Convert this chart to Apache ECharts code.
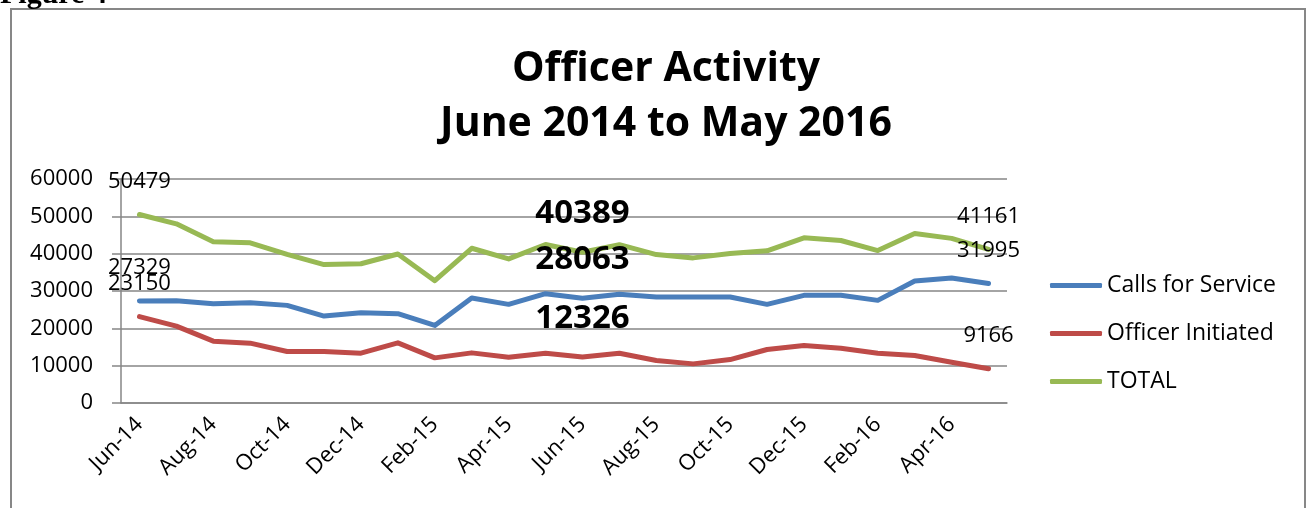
<!DOCTYPE html>
<html>
<head>
<meta charset="utf-8">
<script src="https://cdn.jsdelivr.net/npm/echarts@6/dist/echarts.min.js"></script>
<style>
    html, body { margin: 0; padding: 0; background: #fff; }
    #chart { width: 1306px; height: 508px; }
</style>
</head>
<body>
<div id="chart"></div>
<script>
    // x轴 月份
    const months = ["Jun-14", "Jul-14", "Aug-14", "Sep-14", "Oct-14", "Nov-14", "Dec-14", "Jan-15",
        "Feb-15", "Mar-15", "Apr-15", "May-15", "Jun-15", "Jul-15", "Aug-15", "Sep-15",
        "Oct-15", "Nov-15", "Dec-15", "Jan-16", "Feb-16", "Mar-16", "Apr-16", "May-16"];

    const callsForService = [27329, 27400, 26600, 26870, 26150, 23280, 24180, 23910, 20780, 28120, 26420, 29280,
        28063, 29100, 28390, 28390, 28390, 26420, 28840, 28840, 27490, 32690, 33490, 31995];

    const officerInitiated = [23150, 20600, 16570, 16030, 13790, 13790, 13340, 16120, 12090, 13430, 12270, 13340,
        12326, 13340, 11370, 10480, 11640, 14330, 15400, 14690, 13340, 12720, 10930, 9166];

    const total = [50479, 48000, 43170, 42900, 39800, 37070, 37300, 39900, 32750, 41450, 38600, 42450,
        40389, 42400, 39760, 38870, 40030, 40750, 44240, 43530, 40830, 45410, 44100, 41161];

    const yTicks = [0, 10000, 20000, 30000, 40000, 50000, 60000];

    // 哪些点要显示数值
    const labelAt = { 0: "small", 12: "big", 23: "shift" };

    const font = "Open Sans";

    const chart = echarts.init(document.getElementById("chart"));

    const lineSeries = (name, color, values) => ({
        name: name,
        type: "line",
        data: values,
        symbol: "none",
        z: 2,
        lineStyle: { color: color, width: 5, cap: "round", join: "round" },
        itemStyle: { color: color },
        emphasis: { disabled: true }
    });

    // 数值标签放在单独的散点系列里, 保证在所有线条上面
    const labelSeries = (name, values) => ({
        name: name + " labels",
        type: "scatter",
        z: 10,
        symbolSize: 0.01,
        itemStyle: { color: "rgba(0,0,0,0)", opacity: 1 },
        silent: true,
        labelLayout: { hideOverlap: false },
        data: values.map((v, i) => {
            const kind = labelAt[i];
            if (!kind) return [months[i], "-"];
            const label = {
                show: true,
                position: "top",
                distance: 22,
                color: "#000",
                fontFamily: font,
                fontSize: 22
            };
            if (kind === "big") {
                label.fontSize = 33;
                label.fontWeight = "bold";
            }
            if (kind === "shift") {
                label.offset = [12, 0];
            }
            return { value: [months[i], v], label: label };
        }),
        label: {
            show: false,
            formatter: (p) => String(p.value[1])
        }
    });

    const option = {
        animation: false,
        title: {
            text: "Officer Activity\nJune 2014 to May 2016",
            left: 661,
            textAlign: "center",
            top: 37,
            textStyle: {
                fontFamily: font,
                fontSize: 41,
                fontWeight: "bold",
                color: "#000",
                lineHeight: 55
            }
        },
        graphic: [
            {
                type: "rect",
                shape: { x: 11, y: 9, width: 1294, height: 540 },
                style: { fill: "none", stroke: "#878787", lineWidth: 2 },
                z: 0
            },
            {
                type: "text",
                left: 0,
                top: -20,
                style: {
                    text: "Figure 4",
                    font: "bold 30px 'Liberation Serif'",
                    fill: "#000"
                }
            }
        ],
        legend: {
            orient: "vertical",
            left: 1045,
            top: 269,
            itemWidth: 52,
            itemHeight: 5,
            itemGap: 25,
            icon: "roundRect",
            textStyle: { fontFamily: font, fontSize: 23, color: "#000" },
            data: ["Calls for Service", "Officer Initiated", "TOTAL"]
        },
        grid: { left: 121, right: 299, top: 179, bottom: 105 },
        xAxis: {
            type: "category",
            data: months,
            boundaryGap: true,
            axisLine: { lineStyle: { color: "#868686", width: 1.5 } },
            axisTick: { interval: 1, length: 8, lineStyle: { color: "#868686", width: 1.5 } },
            axisLabel: {
                interval: 1,
                rotate: 45,
                margin: 18,
                color: "#000",
                fontFamily: font,
                fontSize: 22
            }
        },
        yAxis: {
            type: "value",
            min: yTicks[0],
            max: yTicks[yTicks.length - 1],
            interval: 10000,
            axisLine: { show: true, lineStyle: { color: "#868686", width: 1.5 } },
            axisTick: { show: true, length: 9, lineStyle: { color: "#868686", width: 1.5 } },
            axisLabel: {
                margin: 28,
                color: "#000",
                fontFamily: font,
                fontSize: 22,
                formatter: (v) => String(v)
            },
            splitLine: { lineStyle: { color: "#868686", width: 1.5 } }
        },
        series: [
            lineSeries("Calls for Service", "#4a7ebb", callsForService),
            lineSeries("Officer Initiated", "#be4b48", officerInitiated),
            lineSeries("TOTAL", "#98b954", total),
            labelSeries("Calls for Service", callsForService),
            labelSeries("Officer Initiated", officerInitiated),
            labelSeries("TOTAL", total)
        ]
    };

    chart.setOption(option);
</script>
</body>
</html>
